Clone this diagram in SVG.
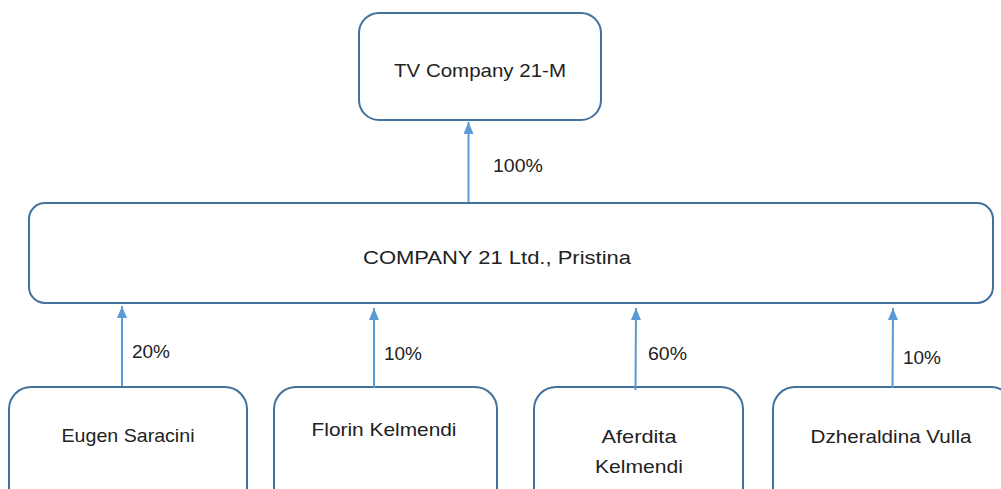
<svg xmlns="http://www.w3.org/2000/svg" width="1001" height="489" viewBox="0 0 1001 489">
<defs>
<style>
.box{fill:#fff;stroke:#41719c;stroke-width:2}
.arr{stroke:#5b9bd5;stroke-width:2;fill:none}
.t{font-family:"Liberation Sans",Arial,sans-serif;font-size:19px;fill:#222}
.c{text-anchor:middle}
</style>
<marker id="ah" markerWidth="12" markerHeight="10" refX="12" refY="5" orient="auto" markerUnits="userSpaceOnUse" viewBox="0 0 12 10">
<path d="M0,0 L12,5 L0,10 Z" fill="#5b9bd5"/>
</marker>
</defs>
<rect width="1001" height="489" fill="#fff"/>
<g id="tv">
<rect class="box" x="359" y="13" width="242" height="107" rx="20"/>
<text class="t c" x="480" y="77" textLength="172" lengthAdjust="spacingAndGlyphs">TV Company 21-M</text>
</g>
<g id="company21">
<rect class="box" x="29" y="203" width="964" height="100" rx="16"/>
<text class="t c" x="497" y="264" textLength="268" lengthAdjust="spacingAndGlyphs">COMPANY 21 Ltd., Pristina</text>
</g>
<g id="eugen">
<rect class="box" x="9" y="387" width="238" height="130" rx="22"/>
<text class="t c" x="128" y="442" textLength="133" lengthAdjust="spacingAndGlyphs">Eugen Saracini</text>
</g>
<g id="florin">
<rect class="box" x="274" y="387" width="223" height="130" rx="22"/>
<text class="t c" x="384" y="436" textLength="145" lengthAdjust="spacingAndGlyphs">Florin Kelmendi</text>
</g>
<g id="aferdita">
<rect class="box" x="534" y="387" width="209" height="130" rx="22"/>
<text class="t c" x="639" y="443" textLength="75" lengthAdjust="spacingAndGlyphs">Aferdita</text>
<text class="t c" x="639" y="473" textLength="88" lengthAdjust="spacingAndGlyphs">Kelmendi</text>
</g>
<g id="dzheraldina">
<rect class="box" x="773" y="387" width="240" height="130" rx="22"/>
<text class="t c" x="891" y="443" textLength="161" lengthAdjust="spacingAndGlyphs">Dzheraldina Vulla</text>
</g>
<g id="connectors">
<line class="arr" x1="468.5" y1="202" x2="468.5" y2="122" marker-end="url(#ah)"/>
<line class="arr" x1="122" y1="386" x2="122" y2="306" marker-end="url(#ah)"/>
<line class="arr" x1="374" y1="388" x2="374" y2="308" marker-end="url(#ah)"/>
<line class="arr" x1="635.5" y1="390" x2="636" y2="308" marker-end="url(#ah)"/>
<line class="arr" x1="892.5" y1="388" x2="893" y2="308" marker-end="url(#ah)"/>
<text class="t" x="493" y="172" textLength="50" lengthAdjust="spacingAndGlyphs">100%</text>
<text class="t" x="132" y="358" textLength="38" lengthAdjust="spacingAndGlyphs">20%</text>
<text class="t" x="384" y="360" textLength="38" lengthAdjust="spacingAndGlyphs">10%</text>
<text class="t" x="648" y="360" textLength="39" lengthAdjust="spacingAndGlyphs">60%</text>
<text class="t" x="903" y="364" textLength="38" lengthAdjust="spacingAndGlyphs">10%</text>
</g>
</svg>
